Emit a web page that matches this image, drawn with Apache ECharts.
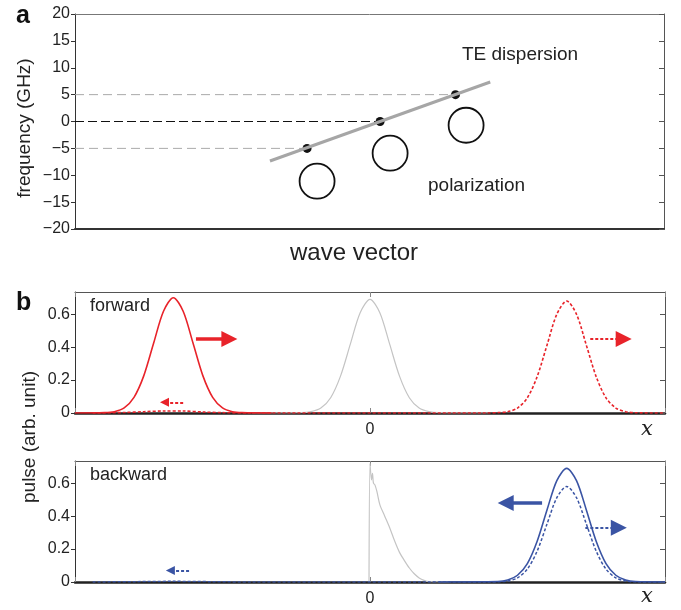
<!DOCTYPE html>
<html>
<head>
<meta charset="utf-8">
<script src="https://cdn.jsdelivr.net/npm/echarts@6/dist/echarts.min.js"></script>
<style>
  html, body { margin: 0; padding: 0; background: #fff; }
  #chart { width: 681px; height: 610px; }
</style>
</head>
<body>
<div id="chart"></div>
<script>
// panel a: dispersion (x in arbitrary wave-vector units 0..100)
const freqTicks = [-20, -15, -10, -5, 0, 5, 10, 15, 20];
const dispersionLine = [[33.1, -7.35], [70.5, 7.35]];
const dispersionPoints = [[39.4, -5], [51.8, 0], [64.6, 5]];
const polarizationCircles = [[41.1, -11.1], [53.5, -5.9], [66.4, -0.7]];
const guideUpper = [[0, 5], [64.6, 5]];
const guideZero = [[0, 0], [51.8, 0]];
const guideLower = [[0, -5], [39.4, -5]];

// panel b: forward pulses
const fwdIncident = [
  [-3.0, 0], [-2.7, 0.002], [-2.6, 0.008], [-2.5, 0.031], [-2.4, 0.095], [-2.3, 0.227],
  [-2.2, 0.425], [-2.1, 0.618], [-2.0, 0.70], [-1.9, 0.618], [-1.8, 0.425], [-1.7, 0.227],
  [-1.6, 0.095], [-1.5, 0.031], [-1.4, 0.008], [-1.3, 0.002], [-1.0, 0]
];
const fwdOutput = [
  [-2.82, 0], [-2.5, 0.003], [-2.3, 0.008], [-2.1, 0.012], [-1.9, 0.012], [-1.7, 0.006],
  [-1.5, 0.002], [-1.2, 0], [1.2, 0], [1.3, 0.002], [1.4, 0.0075], [1.5, 0.030], [1.6, 0.092],
  [1.7, 0.221], [1.8, 0.412], [1.9, 0.600], [2.0, 0.68], [2.1, 0.600], [2.2, 0.412],
  [2.3, 0.221], [2.4, 0.092], [2.5, 0.030], [2.6, 0.0075], [2.7, 0.0015], [3.0, 0]
];
const fwdMedium = [
  [-1.2, 0], [-0.7, 0.002], [-0.6, 0.008], [-0.5, 0.030], [-0.4, 0.093], [-0.3, 0.224],
  [-0.2, 0.418], [-0.1, 0.609], [0, 0.69], [0.1, 0.609], [0.2, 0.418], [0.3, 0.224],
  [0.4, 0.093], [0.5, 0.030], [0.6, 0.008], [0.7, 0.002], [1.2, 0]
];

// panel b: backward pulses
const bwdIncident = [
  [0.7, 0], [1.3, 0.003], [1.4, 0.012], [1.5, 0.041], [1.6, 0.112], [1.7, 0.248], [1.8, 0.438],
  [1.9, 0.616], [2.0, 0.69], [2.1, 0.616], [2.2, 0.438], [2.3, 0.248], [2.4, 0.112],
  [2.5, 0.041], [2.6, 0.012], [2.7, 0.003], [3.0, 0]
];
const bwdOutput = [
  [-2.82, 0], [-2.4, 0.002], [-2.0, 0.004], [-1.6, 0.002], [-1.2, 0], [1.2, 0], [1.3, 0.001],
  [1.4, 0.006], [1.5, 0.025], [1.6, 0.078], [1.7, 0.188], [1.8, 0.352], [1.9, 0.512],
  [2.0, 0.58], [2.1, 0.512], [2.2, 0.352], [2.3, 0.188], [2.4, 0.078], [2.5, 0.025],
  [2.6, 0.006], [2.7, 0.001], [3.0, 0]
];
const bwdMedium = [
  [-0.01, 0], [0.0, 0.72], [0.015, 0.62], [0.025, 0.66], [0.035, 0.60], [0.05, 0.59],
  [0.07, 0.55], [0.1, 0.47], [0.15, 0.40], [0.2, 0.33], [0.25, 0.25], [0.3, 0.18],
  [0.35, 0.13], [0.4, 0.085], [0.45, 0.05], [0.5, 0.025], [0.55, 0.01], [0.6, 0.002], [0.8, 0]
];

// arrows [from, head centre]
const fwdArrowSolid = [[-1.77, 0.45], [-1.43, 0.45]];
const fwdArrowSmall = [[-1.90, 0.065], [-2.09, 0.065]];
const fwdArrowDashed = [[2.24, 0.45], [2.58, 0.45]];
const bwdArrowSolid = [[1.75, 0.48], [1.38, 0.48]];
const bwdArrowDashed = [[2.19, 0.33], [2.53, 0.33]];
const bwdArrowSmall = [[-1.84, 0.07], [-2.03, 0.07]];

const RED = '#e8232a';
const BLUE = '#3a54a4';
const FONT = "'Liberation Sans', Arial, sans-serif";

const chart = echarts.init(document.getElementById('chart'));

const minus = (v) => (v < 0 ? '\u2212' + Math.abs(v) : String(v));

function pulseXAxis(grid) {
  return [{
    gridIndex: grid, type: 'value', min: -3, max: 3, interval: 3, position: 'bottom',
    axisLine: { onZero: false, lineStyle: { color: '#222', width: 2.5 } },
    axisTick: { inside: true, length: 5, lineStyle: { color: '#888' } },
    axisLabel: { formatter: (v) => (v === 0 ? '0' : ''), fontSize: 16, color: '#222', margin: 9, fontFamily: FONT },
    splitLine: { show: false },
  }, {
    gridIndex: grid, type: 'value', min: -3, max: 3, interval: 3, position: 'top',
    axisLine: { onZero: false, lineStyle: { color: '#555', width: 1 } },
    axisTick: { inside: true, length: 5, lineStyle: { color: '#888' } },
    axisLabel: { show: false },
    splitLine: { show: false },
  }];
}

function pulseYAxis(grid) {
  return [{
    gridIndex: grid, type: 'value', min: 0, max: 0.735, interval: 0.2, position: 'left',
    axisLine: { show: true, onZero: false, lineStyle: { color: '#333', width: 1 } },
    axisTick: { show: true, length: 4, lineStyle: { color: '#333' } },
    axisLabel: { fontSize: 16, color: '#222', margin: 5, showMaxLabel: false, fontFamily: FONT,
      formatter: (v) => (v === 0 ? '0' : v.toFixed(1)) },
    splitLine: { show: false },
  }, {
    gridIndex: grid, type: 'value', min: 0, max: 0.735, interval: 0.2, position: 'right',
    axisLine: { show: true, onZero: false, lineStyle: { color: '#555', width: 1 } },
    axisTick: { show: true, inside: true, length: 5, lineStyle: { color: '#555' } },
    axisLabel: { show: false },
    splitLine: { show: false },
  }];
}

function curve(data, xi, yi, color, dashed, width) {
  return {
    type: 'line', xAxisIndex: xi, yAxisIndex: yi, data: data, smooth: 0.3,
    showSymbol: false, silent: true,
    lineStyle: { color: color, width: width || 1.5, type: dashed ? [3, 2] : 'solid' },
  };
}

function arrow(coords, xi, yi, color, dashed, width, head) {
  return {
    type: 'lines', coordinateSystem: 'cartesian2d', xAxisIndex: xi, yAxisIndex: yi,
    symbol: ['none', 'triangle'], symbolSize: head, silent: true,
    lineStyle: { color: color, width: width, type: dashed ? [3, 2] : 'solid', opacity: 1 },
    data: [{ coords: coords }],
  };
}

const option = {
  animation: false,
  backgroundColor: '#fff',
  textStyle: { fontFamily: FONT },
  grid: [
    { left: 75, top: 14, width: 589, height: 215 },
    { left: 75, top: 292, width: 590, height: 121 },
    { left: 75, top: 461, width: 590, height: 121 },
  ],
  xAxis: [
    {
      gridIndex: 0, type: 'value', min: 0, max: 100, position: 'bottom',
      axisLine: { onZero: false, lineStyle: { color: '#333', width: 2 } },
      axisTick: { show: false }, axisLabel: { show: false }, splitLine: { show: false },
    },
    {
      gridIndex: 0, type: 'value', min: 0, max: 100, position: 'top',
      axisLine: { onZero: false, lineStyle: { color: '#777', width: 1 } },
      axisTick: { show: false }, axisLabel: { show: false }, splitLine: { show: false },
    },
    ...pulseXAxis(1),
    ...pulseXAxis(2),
  ],
  yAxis: [
    {
      gridIndex: 0, type: 'value', min: freqTicks[0], max: freqTicks[freqTicks.length - 1], interval: 5,
      position: 'left',
      axisLine: { show: true, onZero: false, lineStyle: { color: '#333', width: 1 } },
      axisTick: { show: true, length: 4, lineStyle: { color: '#333' } },
      axisLabel: { fontSize: 16, color: '#222', margin: 5, formatter: minus, fontFamily: FONT },
      splitLine: { show: false },
    },
    {
      gridIndex: 0, type: 'value', min: -20, max: 20, interval: 5, position: 'right',
      axisLine: { show: true, onZero: false, lineStyle: { color: '#555', width: 1 } },
      axisTick: { show: true, inside: true, length: 5, lineStyle: { color: '#555' } },
      axisLabel: { show: false }, splitLine: { show: false },
    },
    ...pulseYAxis(1),
    ...pulseYAxis(2),
  ],
  series: [
    // panel a
    { type: 'line', xAxisIndex: 0, yAxisIndex: 0, data: guideUpper, showSymbol: false, silent: true,
      lineStyle: { color: '#aaa', width: 1, type: [9, 5] } },
    { type: 'line', xAxisIndex: 0, yAxisIndex: 0, data: guideLower, showSymbol: false, silent: true,
      lineStyle: { color: '#aaa', width: 1, type: [9, 5] } },
    { type: 'line', xAxisIndex: 0, yAxisIndex: 0, data: guideZero, showSymbol: false, silent: true,
      lineStyle: { color: '#111', width: 1, type: [9, 4] } },
    { type: 'line', xAxisIndex: 0, yAxisIndex: 0, data: dispersionLine, showSymbol: false, silent: true,
      lineStyle: { color: '#a6a6a6', width: 3 } },
    { type: 'scatter', xAxisIndex: 0, yAxisIndex: 0, data: dispersionPoints, symbolSize: 9, silent: true,
      itemStyle: { color: '#111', opacity: 1 } },
    { type: 'scatter', xAxisIndex: 0, yAxisIndex: 0, data: polarizationCircles, symbolSize: 35, silent: true,
      itemStyle: { color: 'rgba(0,0,0,0)', borderColor: '#111', borderWidth: 1.8, opacity: 1 } },

    // panel b forward
    curve(fwdMedium, 2, 2, '#c4c4c4', false, 1.2),
    curve(fwdOutput, 2, 2, RED, true, 1.6),
    curve(fwdIncident, 2, 2, RED, false, 1.6),
    arrow(fwdArrowSolid, 2, 2, RED, false, 3.5, [11, 16]),
    arrow(fwdArrowSmall, 2, 2, RED, true, 1.8, [7, 9]),
    arrow(fwdArrowDashed, 2, 2, RED, true, 2, [11, 16]),

    // panel b backward
    curve(bwdMedium, 4, 4, '#c4c4c4', false, 1.2),
    curve(bwdOutput, 4, 4, BLUE, true, 1.5),
    curve(bwdIncident, 4, 4, BLUE, false, 1.6),
    arrow(bwdArrowSolid, 4, 4, BLUE, false, 3.5, [11, 16]),
    arrow(bwdArrowDashed, 4, 4, BLUE, true, 2, [11, 16]),
    arrow(bwdArrowSmall, 4, 4, BLUE, true, 1.8, [7, 9]),
  ],
  graphic: [
    { type: 'text', left: 16, top: 4, style: { text: 'a', font: 'bold 25px ' + FONT, fill: '#111' } },
    { type: 'text', left: 16, top: 291, style: { text: 'b', font: 'bold 25px ' + FONT, fill: '#111' } },
    { type: 'text', x: 25, y: 128, rotation: Math.PI / 2,
      style: { text: 'frequency (GHz)', font: '19px ' + FONT, fill: '#222', align: 'center', verticalAlign: 'middle' } },
    { type: 'text', x: 30, y: 437, rotation: Math.PI / 2,
      style: { text: 'pulse (arb. unit)', font: '19px ' + FONT, fill: '#222', align: 'center', verticalAlign: 'middle' } },
    { type: 'text', x: 354, y: 253,
      style: { text: 'wave vector', font: '24px ' + FONT, fill: '#222', align: 'center', verticalAlign: 'middle' } },
    { type: 'text', x: 462, y: 55,
      style: { text: 'TE dispersion', font: '19px ' + FONT, fill: '#222', align: 'left', verticalAlign: 'middle' } },
    { type: 'text', x: 428, y: 186,
      style: { text: 'polarization', font: '19px ' + FONT, fill: '#222', align: 'left', verticalAlign: 'middle' } },
    { type: 'text', x: 90, y: 306,
      style: { text: 'forward', font: '18px ' + FONT, fill: '#222', align: 'left', verticalAlign: 'middle' } },
    { type: 'text', x: 90, y: 475,
      style: { text: 'backward', font: '18px ' + FONT, fill: '#222', align: 'left', verticalAlign: 'middle' } },
    { type: 'text', x: 647, y: 430,
      style: { text: 'x', font: 'italic 21px "DejaVu Serif", "Liberation Serif", serif', fill: '#222', align: 'center', verticalAlign: 'middle' } },
    { type: 'text', x: 647, y: 597,
      style: { text: 'x', font: 'italic 21px "DejaVu Serif", "Liberation Serif", serif', fill: '#222', align: 'center', verticalAlign: 'middle' } },
  ],
};

chart.setOption(option);
</script>
</body>
</html>
